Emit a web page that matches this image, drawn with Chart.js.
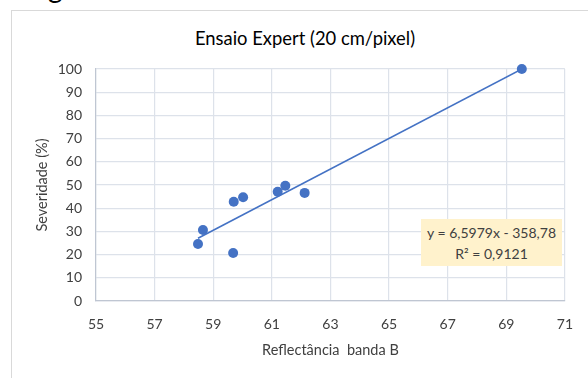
<!DOCTYPE html>
<html>
<head>
<meta charset="utf-8">
<script src="https://cdn.jsdelivr.net/npm/chart.js@4.4.1/dist/chart.umd.min.js"></script>
<style>
    body { margin: 0; background: #fff; overflow: hidden; }
    #wrap { position: relative; width: 588px; height: 378px; }
    #frame { position: absolute; left: 11px; top: 10px; width: 600px; height: 400px; border: 1px solid #d9d9d9; box-sizing: border-box; }
    #cut { position: absolute; left: 48px; top: -30px; font: 28px Lato, sans-serif; color: #000; }
    #title { position: absolute; left: 0; width: 610px; top: 27px; text-align: center; font: 18.4px Lato, sans-serif; color: #000; line-height: 22px; }
    #eq { position: absolute; left: 421px; top: 219px; width: 141px; height: 47px; background: #fff2cc;
          font: 14px Lato, sans-serif; color: #404040; text-align: center; line-height: 21px; padding-top: 3px; box-sizing: border-box; }
    canvas { position: absolute; left: 0; top: 0; }
</style>
</head>
<body>
<div id="wrap">
    <div id="cut">g</div>
    <div id="frame"></div>
    <div id="title">Ensaio Expert (20 cm/pixel)</div>
    <canvas id="chart" width="588" height="378"></canvas>
    <div id="eq">y = 6,5979x - 358,78<br>R² = 0,9121</div>
</div>
<script>
// Reflectância banda B x Severidade (%)
const reflectancia = [58.48, 58.65, 59.68, 59.7, 60.02, 61.2, 61.46, 62.12, 69.53];
const severidade = [24.6, 30.6, 20.7, 42.8, 44.7, 47.1, 49.7, 46.6, 100];

// extremos da linha de tendência
const trendX = [58.48, 69.53];
const trendY = [27.07, 99.97];

const xTicks = [55, 57, 59, 61, 63, 65, 67, 69, 71];
const yTicks = [0, 10, 20, 30, 40, 50, 60, 70, 80, 90, 100];

const fontFamily = 'Lato, sans-serif';
const gridColor = '#dde2ea';

const ctx = document.getElementById('chart').getContext('2d');
new Chart(ctx, {
    type: 'scatter',
    data: {
        datasets: [
            {
                label: 'Severidade',
                data: reflectancia.map((x, i) => ({ x: x, y: severidade[i] })),
                backgroundColor: '#4472c4',
                borderColor: '#4472c4',
                pointRadius: 5,
                pointBorderWidth: 0,
                clip: false,
                order: 1
            },
            {
                label: 'Linear',
                type: 'line',
                data: trendX.map((x, i) => ({ x: x, y: trendY[i] })),
                borderColor: '#4472c4',
                borderWidth: 1.6,
                pointRadius: 0,
                fill: false,
                order: 2
            }
        ]
    },
    options: {
        responsive: false,
        animation: false,
        layout: { padding: { left: 0, right: 23, top: 69, bottom: 0 } },
        plugins: {
            legend: { display: false },
            tooltip: { enabled: false }
        },
        scales: {
            x: {
                type: 'linear',
                min: 55,
                max: 71,
                afterBuildTicks: s => { s.ticks = xTicks.map(v => ({ value: v })); },
                afterFit: s => { s.height = 77; },
                grid: { color: gridColor, lineWidth: 1.2, drawTicks: false },
                border: { color: '#bfc6d2', width: 1.2 },
                ticks: {
                    color: '#404040',
                    padding: 15,
                    font: { family: fontFamily, size: 14 },
                    callback: v => v
                },
                title: {
                    display: true,
                    text: 'Reflectância  banda B',
                    color: '#404040',
                    font: { family: fontFamily, size: 14.5, lineHeight: 1.2 },
                    padding: { top: 0, bottom: 19 }
                }
            },
            y: {
                min: 0,
                max: 100,
                afterBuildTicks: s => { s.ticks = yTicks.map(v => ({ value: v })); },
                afterFit: s => { s.width = 96; },
                grid: { color: gridColor, lineWidth: 1.2, drawTicks: false },
                border: { color: '#bfc6d2', width: 1.2 },
                ticks: {
                    color: '#404040',
                    padding: 14,
                    font: { family: fontFamily, size: 14 },
                    callback: v => v
                },
                title: {
                    display: true,
                    text: 'Severidade (%)',
                    color: '#404040',
                    font: { family: fontFamily, size: 14.5, lineHeight: 1.2 },
                    padding: { top: 34, bottom: 0 }
                }
            }
        }
    }
});
</script>
</body>
</html>
